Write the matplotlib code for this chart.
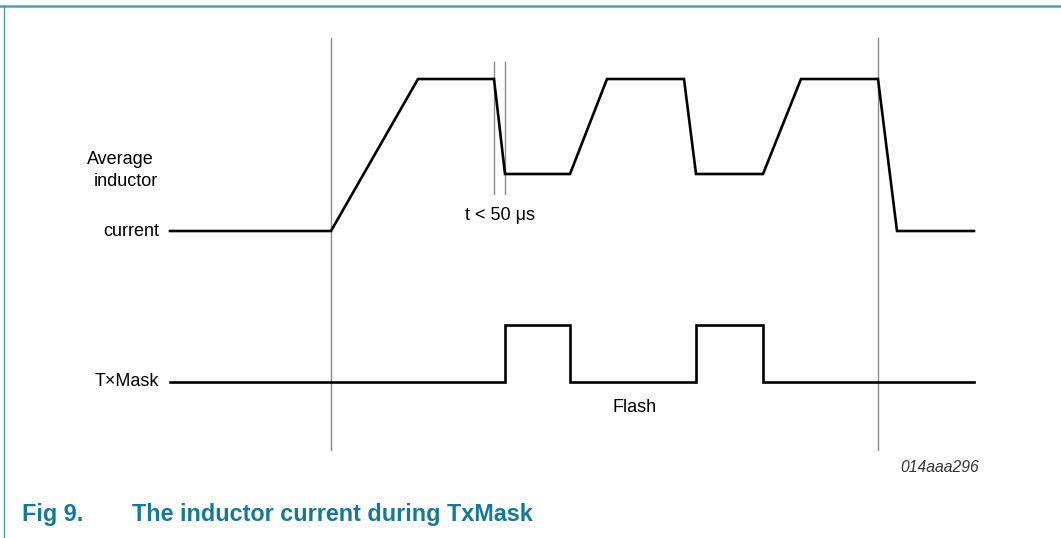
import matplotlib
matplotlib.use("Agg")
import matplotlib.pyplot as plt
from matplotlib.lines import Line2D

plt.rcParams['font.family'] = ['Liberation Sans', 'DejaVu Sans']

# ---- waveform data (horizontal = time position, vertical = signal level) ----
current_t = [170, 331, 418, 494, 505, 570, 607, 684, 696, 763, 801, 878, 897, 974]
current_y = [231, 231, 79, 79, 174, 174, 79, 79, 174, 174, 79, 79, 231, 231]

txmask_t = [170, 505, 505, 570, 570, 696, 696, 763, 763, 974]
txmask_y = [382, 382, 325, 325, 382, 382, 325, 325, 382, 382]

# reference markers (x, y_top, y_bottom)
marker_x = [331, 878, 494, 505]
marker_top = [38, 38, 62, 62]
marker_bot = [450, 450, 194, 194]

W, H = 1061, 538
fig = plt.figure(figsize=(W / 100, H / 100), dpi=100)
ax = fig.add_axes([0, 0, 1, 1])
ax.set_xlim(0, W)
ax.set_ylim(H, 0)
ax.axis('off')

# frame
teal = '#13789a'
ax.add_line(Line2D([0, W], [6, 6], color='#4aa0b8', lw=1.8))
ax.add_line(Line2D([4, 4], [6, H], color='#3f97b2', lw=0.9))

# markers
for x, t, b in zip(marker_x, marker_top, marker_bot):
    ax.plot([x, x], [t, b], color='#8a8a8a', lw=1.0, zorder=1)

# waveforms
ax.plot(current_t, current_y, color='black', lw=1.9, solid_joinstyle='miter', zorder=2)
ax.plot(txmask_t, txmask_y, color='black', lw=1.9, solid_joinstyle='miter', zorder=2)

fs = 13
ax.text(120, 160, 'Average', fontsize=fs, ha='center', va='center')
ax.text(126, 182, 'inductor', fontsize=fs, ha='center', va='center')
ax.text(159, 231, 'current', fontsize=fs, ha='right', va='center')
ax.text(159, 382, 'T\u00d7Mask', fontsize=fs, ha='right', va='center')
ax.text(500, 215, 't < 50 \u03bcs', fontsize=fs, ha='center', va='center')
ax.text(635, 407, 'Flash', fontsize=fs, ha='center', va='center')
ax.text(979, 467, '014aaa296', fontsize=11.3, ha='right', va='center',
        style='italic', color='#333333')

# caption
ax.text(22, 514, 'Fig 9.', fontsize=16.8, fontweight='bold', color=teal,
        ha='left', va='center')
ax.text(132, 514, 'The inductor current during TxMask', fontsize=16.8,
        fontweight='bold', color=teal, ha='left', va='center')

fig.savefig('out.png', dpi=100)
